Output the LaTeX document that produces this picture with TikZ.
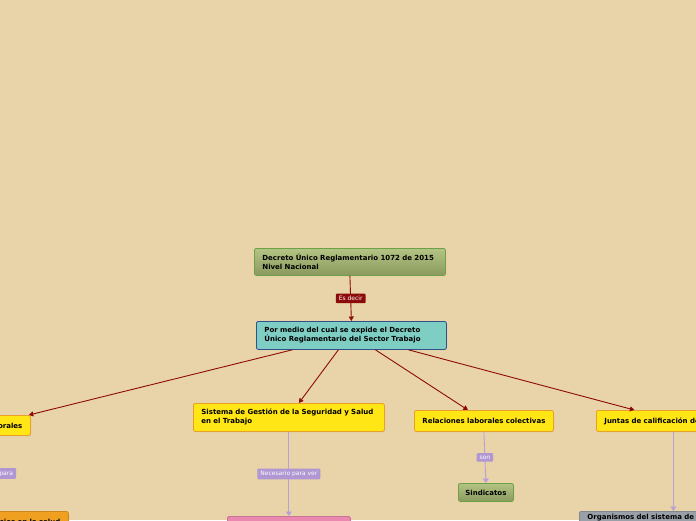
\documentclass[tikz,border=0pt]{standalone}
\usepackage{fontspec}
\setmainfont{DejaVu Sans}
\usetikzlibrary{arrows.meta,shadows}
\definecolor{bg}{RGB}{232,212,168}
\definecolor{darkred}{RGB}{140,10,10}
\definecolor{lav}{RGB}{184,160,216}
\definecolor{lavlbl}{RGB}{176,150,210}
\definecolor{ylw}{RGB}{255,230,20}
\definecolor{ylwborder}{RGB}{232,160,40}
\definecolor{teal}{RGB}{126,206,196}
\definecolor{tealborder}{RGB}{50,80,140}
\definecolor{grtop}{RGB}{180,196,132}
\definecolor{grbot}{RGB}{138,154,94}
\definecolor{grborder}{RGB}{110,160,70}
\definecolor{pinkf}{RGB}{234,136,176}
\definecolor{greyf}{RGB}{154,160,168}
\definecolor{orangef}{RGB}{240,160,32}
\tikzset{
  box/.style={rectangle, rounded corners=2pt, line width=0.8pt, anchor=north west,
    font=\fontsize{7}{9}\selectfont\bfseries, align=left, inner xsep=8pt, inner ysep=0pt,
    drop shadow={shadow xshift=0.6pt, shadow yshift=-0.8pt, opacity=0.25}},
  greenbox/.style={box, draw=grborder, top color=grtop, bottom color=grbot},
  ylwbox/.style={box, draw=ylwborder, fill=ylw},
  tealbox/.style={box, draw=tealborder, fill=teal},
  redarrow/.style={draw=darkred, line width=0.9pt, -{Triangle[width=5pt,length=4.5pt]}},
  lavarrow/.style={draw=lav, line width=0.9pt, -{Triangle[width=6pt,length=4.5pt]}},
  redlbl/.style={fill=darkred, text=white, rounded corners=1pt, font=\fontsize{6}{7}\selectfont, inner xsep=3pt, inner ysep=2.5pt},
  lavlabel/.style={fill=lavlbl, text=white, rounded corners=1pt, font=\fontsize{6}{7}\selectfont, inner xsep=3pt, inner ysep=2.5pt},
}
\begin{document}
\begin{tikzpicture}[x=1pt,y=-1pt]
\useasboundingbox (0,0) rectangle (696,520);
\fill[bg] (0,0) rectangle (696,520);
\clip (0,0) rectangle (696,520);

\node[greenbox, minimum width=191, minimum height=27, text width=175] (n1) at (254,248)
  {Decreto Único Reglamentario 1072 de 2015\\Nivel Nacional};
\node[tealbox, minimum width=190, minimum height=28, text width=174] (n2) at (256,321)
  {Por medio del cual se expide el Decreto\\Único Reglamentario del Sector Trabajo};

\node[ylwbox, minimum width=120, minimum height=20, text width=104, align=right] (lab) at (-90,415)
  {Relaciones laborales};
\node[ylwbox, minimum width=191, minimum height=28, text width=175] (sst) at (193,403)
  {Sistema de Gestión de la Seguridad y Salud\\en el Trabajo};
\node[ylwbox, minimum width=139, minimum height=21, text width=125, inner xsep=7pt, align=center] (rlc) at (414,410)
  {Relaciones laborales colectivas};
\node[ylwbox, minimum width=170, minimum height=21, text width=154] (jun) at (596,410)
  {Juntas de calificación de invalidez};

\node[greenbox, minimum width=55, minimum height=18, text width=47, inner xsep=4pt, align=center] (sin) at (458,483)
  {Sindicatos};
\node[box, draw=pinkf!85!black, fill=pinkf, minimum width=123, minimum height=20] (pink) at (227,516) {};
\node[box, draw=greyf!85!black, fill=greyf, minimum width=170, minimum height=20, text width=154, inner xsep=7pt] (org) at (579,511)
  {Organismos del sistema de riesgos laborales};
\node[box, draw=orangef!85!black, fill=orangef, minimum width=170, minimum height=20, text width=154, align=right] (ips) at (-102,511)
  {Prestadores de servicios en la salud};

\draw[redarrow] (n1.south) -- node[redlbl] {Es decir} (n2.north);
\draw[redarrow] ([xshift=-59pt]n2.south) -- ([xshift=-2pt]lab.north east);
\draw[redarrow] ([xshift=-13pt]n2.south) -- ([xshift=10pt]sst.north);
\draw[redarrow] ([xshift=24pt]n2.south) -- ([xshift=-16pt]rlc.north);
\draw[redarrow] ([xshift=57pt]n2.south) -- ([xshift=-47pt]jun.north);

\draw[lavarrow] (sst.south) -- node[lavlabel] {Necesario para ver} (pink.north);
\draw[lavarrow] (rlc.south) -- node[lavlabel] {son} (sin.north);
\draw[lavarrow] ([xshift=-8pt]jun.south) -- ([xshift=9pt]org.north);
\draw[lavarrow] ([xshift=22pt]lab.south) -- node[lavlabel] {Necesario para} ([xshift=5pt]ips.north);
\end{tikzpicture}
\end{document}
